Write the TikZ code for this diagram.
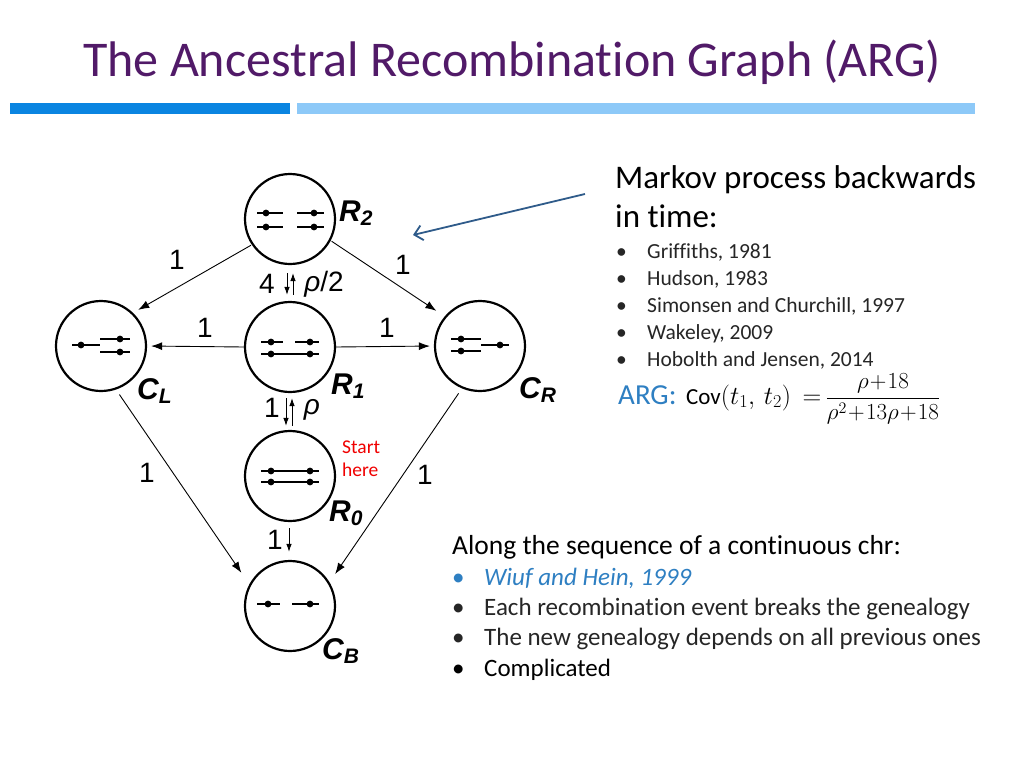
\RequirePackage{fix-cm}
\documentclass[tikz,border=0pt]{standalone}
\usepackage{amsmath}
\usepackage{fontspec}
\setmainfont{Carlito}[Ligatures=NoCommon]
\newfontfamily\arialf{Liberation Sans}
\usetikzlibrary{arrows.meta}
\definecolor{titlec}{HTML}{511A68}
\definecolor{bardark}{HTML}{0A85E1}
\definecolor{barlight}{HTML}{8DC9F8}
\definecolor{argblue}{HTML}{2E7FC2}
\definecolor{arrowblue}{HTML}{2F5B8A}
\definecolor{txt}{HTML}{262626}
\definecolor{startred}{HTML}{F00000}
\begin{document}
\begin{tikzpicture}[x=1pt,y=-1pt,
  state/.style={circle,draw,line width=2.2pt,minimum size=90pt,inner sep=0pt},
  seg/.style={line width=1.8pt},
  conn/.style={line width=0.9pt,-{Latex[length=11pt,width=8pt]}},
  vconn/.style={line width=0.9pt,-{Latex[length=8pt,width=5.5pt]}},
  lab/.style={font=\arialf\fontsize{28}{30}\selectfont,inner sep=0pt},
  statelabel/.style={font=\arialf\bfseries\itshape\fontsize{30}{32}\selectfont,inner sep=0pt,anchor=base west},
  tx/.style={inner sep=0pt,anchor=base west},
  bl/.style={tx,font=\fontsize{21.5}{24}\selectfont,text=txt},
  bl2/.style={tx,font=\fontsize{25}{28}\selectfont,text=txt},
  ]
\useasboundingbox (0,0) rectangle (1024,768);
\fill[white] (0,0) rectangle (1024,768);

% title and bars
\node[tx,font=\fontsize{50}{54}\selectfont,text=titlec] (title) at (83,77) {The Ancestral Recombination Graph (ARG)};
\fill[bardark] (10,103) rectangle (290,114);
\fill[barlight] (297,103) rectangle (975,114);

% states
\node[state] (R2) at (290,219) {};
\node[state] (R1) at (290,347) {};
\node[state] (R0) at (290,476) {};
\node[state] (CB) at (290,606) {};
\node[state] (CL) at (101,346) {};
\node[state] (CR) at (480,346) {};

% contents
\begin{scope}[shift={(R2.center)}]
  \draw[seg] (-33,-6) -- (-7,-6); \draw[seg] (7,-6) -- (34,-6);
  \draw[seg] (-33,8) -- (-7,8); \draw[seg] (7,8) -- (34,8);
  \foreach \x/\y in {-24/-6,24/-6,-24/8,24/8} \fill (\x,\y) circle (3.4pt);
\end{scope}
\begin{scope}[shift={(R1.center)}]
  \draw[seg] (-29,-5) -- (-7,-5); \draw[seg] (5,-5) -- (29,-5);
  \draw[seg] (-29,7) -- (29,7);
  \foreach \x/\y in {-19/-5,20/-5,-19/7,20/7} \fill (\x,\y) circle (3.4pt);
\end{scope}
\begin{scope}[shift={(R0.center)}]
  \draw[seg] (-29,-5) -- (29,-5);
  \draw[seg] (-29,6) -- (29,6);
  \foreach \x/\y in {-19/-5,20/-5,-19/6,20/6} \fill (\x,\y) circle (3.4pt);
\end{scope}
\begin{scope}[shift={(CB.center)}]
  \draw[seg] (-33,-2) -- (-10,-2); \draw[seg] (2,-2) -- (29,-2);
  \foreach \x/\y in {-22/-2,20/-2} \fill (\x,\y) circle (3.4pt);
\end{scope}
\begin{scope}[shift={(CL.center)}]
  \draw[seg] (-29,-1) -- (-1,-1);
  \draw[seg] (-1,-7) -- (29,-7); \draw[seg] (-1,6) -- (29,6);
  \foreach \x/\y in {-20/-1,19/-7,19/6} \fill (\x,\y) circle (3.4pt);
\end{scope}
\begin{scope}[shift={(CR.center)}]
  \draw[seg] (-29,-7) -- (1,-7); \draw[seg] (-29,5) -- (1,5);
  \draw[seg] (1,-1) -- (29,-1);
  \foreach \x/\y in {-19/-7,-19/5,20/-1} \fill (\x,\y) circle (3.4pt);
\end{scope}

% state labels
\node[statelabel] (lR2) at (339,221) {R\textsubscript{2}};
\node[statelabel] (lR1) at (331,394) {R\textsubscript{1}};
\node[statelabel] (lCL) at (137,399) {C\textsubscript{L}};
\node[statelabel] (lCR) at (519,398) {C\textsubscript{R}};
\node[statelabel] (lR0) at (329,521) {R\textsubscript{0}};
\node[statelabel] (lCB) at (322,659) {C\textsubscript{B}};

% connectors
\draw[conn,shorten <=1pt,shorten >=6pt] (R2.214) -- (CL.46);
\draw[conn,shorten <=1pt,shorten >=10pt] (R2.332) -- (CR.140);
\draw[conn,shorten >=4pt] (R1.west) -- (CL.east);
\draw[conn,shorten >=4pt] (R1.east) -- (CR.west);
\draw[conn,shorten <=6pt,shorten >=14pt] (CL.289) -- (CB.152);
\draw[conn,shorten <=6pt,shorten >=10pt] (CR.247) -- (CB.31);
\draw[vconn,shorten <=8pt,shorten >=6pt] ([xshift=-3pt]R2.south) -- ([xshift=-3pt]R1.north);
\draw[vconn,shorten <=6pt,shorten >=8pt] ([xshift=3pt]R1.north) -- ([xshift=3pt]R2.south);
\draw[vconn,shorten <=5pt,shorten >=4pt] ([xshift=-4pt]R1.south) -- ([xshift=-4pt]R0.north);
\draw[vconn,shorten <=4pt,shorten >=5pt] ([xshift=2pt]R0.north) -- ([xshift=2pt]R1.south);
\draw[vconn,shorten <=6pt,shorten >=8pt] ([xshift=-1pt]R0.south) -- ([xshift=-1pt]CB.north);

% connector labels
\node[lab] (e1) at (177,260) {1};
\node[lab] (e2) at (403,265) {1};
\node[lab] (e3) at (205,328) {1};
\node[lab] (e4) at (387,328) {1};
\node[lab] (e5) at (267,284) {4};
\node[lab] (e6) at (324,284) {\textit{ρ}/2};
\node[lab] (e7) at (272,408) {1};
\node[lab] (e8) at (312,410) {\textit{ρ}};
\node[lab] (e9) at (275,540) {1};
\node[lab] (e10) at (147,473) {1};
\node[lab] (e11) at (425,475) {1};

% start here
\node[tx,font=\fontsize{19.5}{22}\selectfont,text=startred] (st1) at (342,453) {Start};
\node[tx,font=\fontsize{19.5}{22}\selectfont,text=startred] (st2) at (342,476) {here};

% right text block
\node[tx,font=\fontsize{33}{38}\selectfont] (h1) at (615,188) {Markov process backwards};
\node[tx,font=\fontsize{33}{38}\selectfont] (h2) at (615,227) {in time:};
\foreach \t [count=\i] in {{Griffiths, 1981},{Hudson, 1983},{Simonsen and Churchill, 1997},{Wakeley, 2009},{Hobolth and Jensen, 2014}} {
  \node[bl] (b\i) at (616,{258+27.2*(\i-1)}) {•};
  \node[bl] (t\i) at (647,{258+27.2*(\i-1)}) {\t};
}
\node[tx,font=\fontsize{29}{30}\selectfont,text=argblue] (arg) at (618,404) {ARG:};
\node[tx,font=\fontsize{23}{26}\selectfont] (cov) at (686,404) {Cov{\fontsize{26}{28}\selectfont$(t_1,\,t_2)\,=\,$}{\fontsize{23}{26}\selectfont$\dfrac{\rho\!+\!18}{\rho^2\!+\!13\rho\!+\!18}$}};

% arrow pointing at the graph
\coordinate (ms) at (585,194);
\coordinate (me) at (413,235);
\draw[arrowblue,line width=1.8pt,-{Straight Barb[length=8pt,width=15pt]}] (ms) -- (me);

% lower text block
\node[tx,font=\fontsize{27.5}{30}\selectfont] (h3) at (452,554) {Along the sequence of a continuous chr:};
\node[bl2,text=argblue] (c1) at (452,585) {•};
\node[bl2,text=argblue] (d1) at (484,585) {\itshape Wiuf and Hein, 1999};
\node[bl2] (c2) at (452,615) {•};
\node[bl2] (d2) at (484,615) {Each recombination event breaks the genealogy};
\node[bl2] (c3) at (452,645) {•};
\node[bl2] (d3) at (484,645) {The new genealogy depends on all previous ones};
\node[bl2,text=black] (c4) at (452,676) {•};
\node[bl2,text=black] (d4) at (484,676) {Complicated};
\end{tikzpicture}
\end{document}
